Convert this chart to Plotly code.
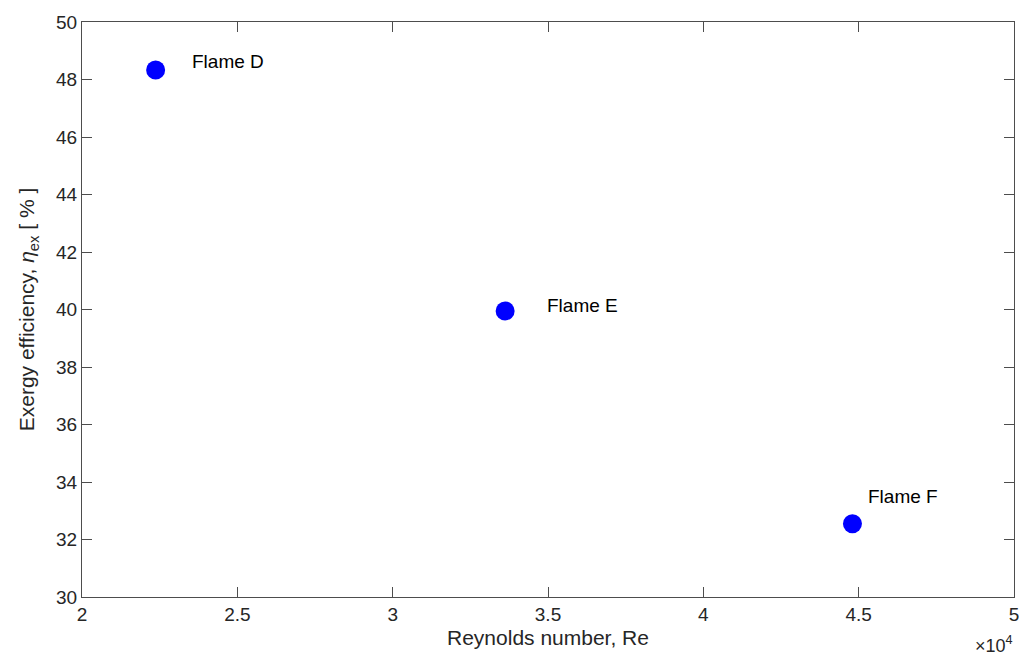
import plotly.graph_objects as go

# Exergy efficiency of the three flames versus Reynolds number
flames = ["Flame D", "Flame E", "Flame F"]
reynolds = [22370, 33620, 44800]
efficiency = [48.33, 39.95, 32.55]

# label offsets (pixels) relative to each marker
label_dx = [34, 40, 14]
label_dy = [9, 5, 27]

W, H = 1031, 657
axis_col = "#4d4d4d"
font_fam = "Liberation Sans, Arial, Helvetica, sans-serif"

fig = go.Figure()
fig.add_trace(go.Scatter(
    x=[r / 1e4 for r in reynolds], y=efficiency, mode="markers",
    marker=dict(color="#0000ff", size=19, line=dict(width=0)),
    showlegend=False, hoverinfo="skip",
))

for name, r, e, dx, dy in zip(flames, reynolds, efficiency, label_dx, label_dy):
    fig.add_annotation(
        x=r / 1e4, y=e, text=name, showarrow=False,
        xanchor="left", yanchor="middle", xshift=dx, yshift=dy,
        font=dict(size=19, color="#000000", family=font_fam),
    )

# exponent label of the x axis
fig.add_annotation(
    x=1, y=0, xref="paper", yref="paper", text="×10<sup>4</sup>",
    showarrow=False, xanchor="right", yanchor="top", yshift=-34, xshift=1,
    font=dict(size=18, color="#262626", family=font_fam),
)

axis_common = dict(
    showline=True, linecolor=axis_col, linewidth=1, mirror="ticks",
    ticks="inside", ticklen=10, tickcolor=axis_col, tickwidth=1,
    showgrid=False, zeroline=False,
    tickfont=dict(size=19, color="#262626", family=font_fam),
)

fig.update_layout(
    width=W, height=H,
    margin=dict(l=82, r=13, t=20, b=59),
    plot_bgcolor="white", paper_bgcolor="white",
    xaxis=dict(range=[2, 5], dtick=0.5, tickformat="~g",
               title=dict(text="Reynolds number, Re", standoff=6,
                          font=dict(size=21, color="#262626", family=font_fam)),
               **axis_common),
    yaxis=dict(range=[30, 50], dtick=2,
               title=dict(text="Exergy efficiency, <i>η</i><sub>ex</sub> [ % ]", standoff=15,
                          font=dict(size=21, color="#262626", family=font_fam)),
               **axis_common),
)

fig.write_html("out.html")
